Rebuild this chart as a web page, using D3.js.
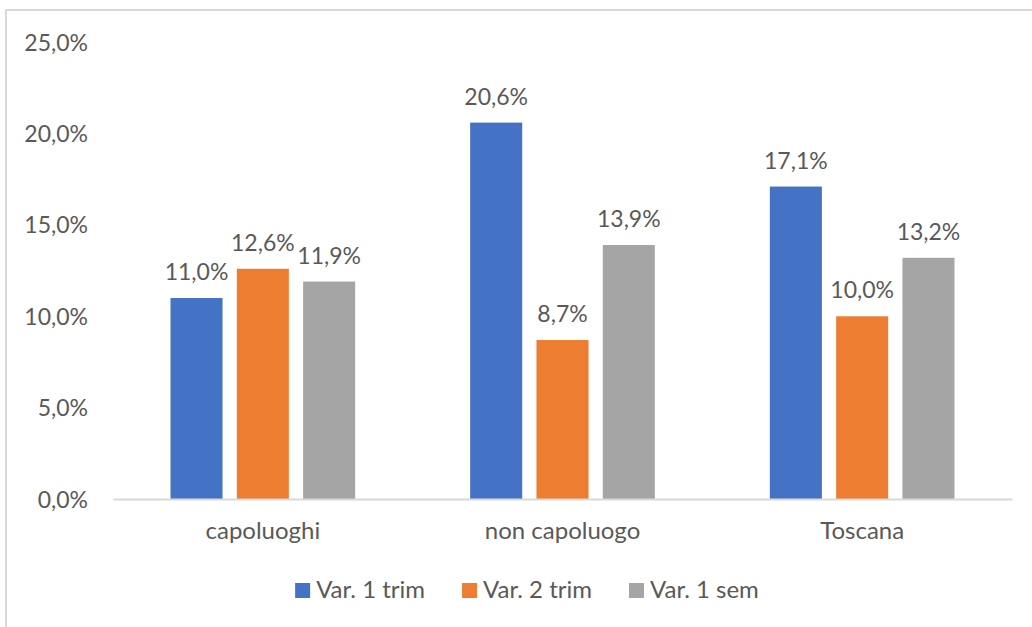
<!DOCTYPE html>
<html><head><meta charset="utf-8">
<script src="https://cdn.jsdelivr.net/npm/d3@7"></script>
<style>html,body{margin:0;padding:0;background:#fff;}svg{display:block;}</style>
</head><body>
<svg id="c" width="1032" height="627"></svg>
<script>
const categories = ["capoluoghi", "non capoluogo", "Toscana"];
const seriesNames = ["Var. 1 trim", "Var. 2 trim", "Var. 1 sem"];
const var1trim = [11.0, 20.6, 17.1];
const var2trim = [12.6, 8.7, 10.0];
const var1sem = [11.9, 13.9, 13.2];
const yTicks = [0, 5, 10, 15, 20, 25];
const colors = ["#4472C4", "#ED7D31", "#A5A5A5"];

(function () {
const seriesValues = [var1trim, var2trim, var1sem];
const data = categories.map((c, i) => ({cat: c, vals: seriesNames.map((s, j) => ({s, v: seriesValues[j][i], j}))}));
const fmt = v => v.toFixed(1).replace(".", ",") + "%";
const FONT = "Lato, 'Open Sans', sans-serif";
const TXT = "#595959";
const NUM = 23, LAB = 24;

const svg = d3.select("#c");
svg.append("rect").attr("x", 6).attr("y", 10).attr("width", 1040).attr("height", 640)
  .attr("fill", "none").attr("stroke", "#D9D9D9").attr("stroke-width", 2);

const mLeft = 113, mRight = 1012, mTop = 42.2, mBottom = 499;
const x0 = d3.scaleBand().domain(categories).range([mLeft, mRight]).padding(0);
const x1 = d3.scaleBand().domain(seriesNames).range([0, x0.bandwidth()]).paddingInner(0.215).paddingOuter(0.867);
const y = d3.scaleLinear().domain([0, 25]).range([mBottom, mTop]);

const yAxis = d3.axisLeft(y).tickValues(yTicks).tickFormat(fmt).tickSize(0).tickPadding(25);
const ya = svg.append("g").attr("transform", `translate(${mLeft},0)`).call(yAxis);
ya.select(".domain").remove();
ya.selectAll("text").attr("font-family", FONT).attr("font-size", NUM).attr("fill", TXT).attr("dy", "0.35em");

const g = svg.append("g").selectAll("g").data(data).join("g")
  .attr("transform", d => `translate(${x0(d.cat)},0)`);
g.selectAll("rect").data(d => d.vals).join("rect")
  .attr("x", d => x1(d.s)).attr("width", x1.bandwidth())
  .attr("y", d => y(d.v)).attr("height", d => y(0) - y(d.v))
  .attr("fill", d => colors[d.j]);
g.selectAll("text").data(d => d.vals).join("text")
  .attr("x", d => x1(d.s) + x1.bandwidth() / 2).attr("y", d => y(d.v) - 18)
  .attr("text-anchor", "middle").attr("font-family", FONT).attr("font-size", NUM).attr("fill", TXT)
  .text(d => fmt(d.v));

const xAxis = d3.axisBottom(x0).tickSize(0).tickPadding(32);
const xa = svg.append("g").attr("transform", `translate(0,${mBottom})`).call(xAxis);
xa.select(".domain").attr("stroke", "#D9D9D9").attr("stroke-width", 2);
xa.selectAll("text").attr("font-family", FONT).attr("font-size", LAB).attr("fill", TXT).attr("dy", "0.35em");

const lg = svg.append("g");
const items = lg.selectAll("g").data(seriesNames).join("g");
items.append("rect").attr("width", 15).attr("height", 15).attr("y", 583).attr("fill", (d, i) => colors[i]);
items.append("text").attr("x", 21).attr("y", 598).attr("font-family", FONT).attr("font-size", LAB).attr("fill", TXT).text(d => d);
let pos = 0; const gap = 37; const xs = [];
items.each(function() { xs.push(pos); pos += 21 + this.querySelector("text").getComputedTextLength() + gap; });
const total = pos - gap; const start = 527 - total / 2;
items.attr("transform", (d, i) => `translate(${start + xs[i]},0)`);
})();
</script>
</body></html>
